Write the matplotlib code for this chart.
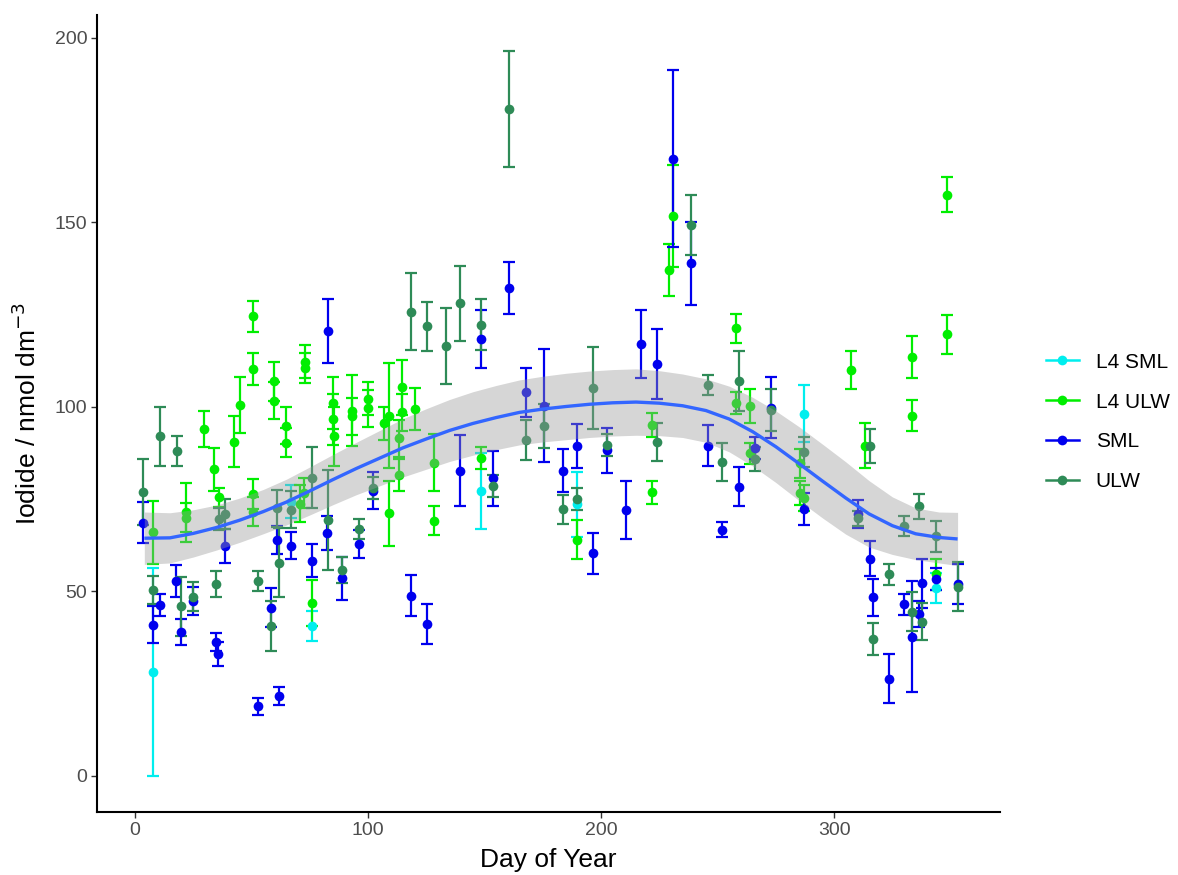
import matplotlib
matplotlib.use("Agg")
import matplotlib.pyplot as plt
from matplotlib.lines import Line2D
import numpy as np

plt.rcParams['font.family'] = ['Liberation Sans', 'DejaVu Sans']

# ---- observations: day of year, mean iodide, error (nmol dm-3) ----
l4sml_day = [7.6, 67, 76, 148.5, 189.6, 287, 343.8]
l4sml_val = [28.1, 74.3, 40.7, 77.3, 73.6, 98.2, 51.0]
l4sml_err = [28.1, 4.5, 4.1, 10.3, 8.8, 7.7, 4.1]

l4ulw_day = [7.6, 21.9, 21.9, 29.8, 34.0, 36.0, 42.6, 45.0, 50.8, 50.8, 50.8, 50.8,
             59.8, 59.8, 65.0, 65.0, 70.8, 72.5, 73.0, 73.0, 76.0, 85.0, 85.0, 85.5,
             93.3, 93.3, 100.0, 100.0, 107.0, 109.0, 109.0, 113.5, 113.5, 114.5, 114.5,
             120.0, 128.3, 128.3, 148.5, 189.6, 222.0, 221.8, 229.0, 231.0, 258.0, 258.0,
             264.0, 264.0, 285.4, 285.4, 287.0, 307.4, 313.3, 333.6, 333.6, 343.8,
             348.6, 348.6]
l4ulw_val = [66.0, 71.4, 70.0, 94.0, 83.1, 75.5, 90.6, 100.5, 124.5, 110.2, 76.4, 71.6,
             106.9, 101.7, 94.9, 90.3, 73.7, 76.6, 112.2, 110.6, 46.8, 101.0, 96.6, 92.0,
             98.9, 97.4, 102.2, 99.6, 95.5, 97.6, 71.1, 91.5, 81.6, 105.3, 98.5,
             99.4, 84.9, 69.2, 86.1, 64.0, 76.9, 95.1, 137.1, 151.8, 121.3, 101.0,
             100.3, 87.4, 84.7, 76.6, 75.2, 110.0, 89.5, 113.5, 97.6, 54.6,
             157.5, 119.7]
l4ulw_err = [8.5, 8.0, 4.0, 5.0, 5.8, 2.6, 6.8, 7.5, 4.1, 4.3, 4.1, 4.0,
             5.2, 5.0, 5.0, 4.0, 5.0, 4.0, 4.5, 4.0, 6.3, 7.0, 7.0, 8.0,
             9.6, 5.0, 4.5, 5.0, 4.5, 14.3, 8.7, 5.0, 4.4, 7.5, 5.0,
             5.6, 7.8, 3.9, 3.0, 5.3, 3.1, 3.2, 7.1, 13.8, 4.0, 3.0,
             4.6, 2.9, 4.0, 3.3, 3.5, 5.1, 6.0, 5.6, 4.2, 4.3,
             4.8, 5.3]

sml_day = [3.6, 7.6, 10.7, 17.6, 19.6, 24.8, 34.8, 35.8, 38.8, 52.9, 58.2, 60.8,
           61.9, 67.0, 76.0, 82.5, 83.0, 89.0, 96.0, 102.0, 118.3, 125.5, 139.5,
           148.5, 153.5, 160.6, 167.7, 175.7, 183.8, 189.8, 196.7, 202.7, 210.7,
           217.0, 224.0, 231.0, 238.5, 246.0, 252.0, 259.0, 266.0, 273.0, 287.0,
           310.4, 315.5, 316.5, 323.6, 329.8, 333.6, 337.6, 336.5, 343.8, 353.0]
sml_val = [68.6, 41.0, 46.2, 52.8, 38.9, 47.4, 36.2, 33.1, 62.3, 18.8, 45.6, 64.0,
           21.7, 62.4, 58.3, 65.8, 120.6, 53.5, 62.9, 77.3, 48.8, 41.2, 82.7,
           118.3, 80.6, 132.2, 103.9, 100.3, 82.7, 89.4, 60.3, 88.3, 72.1,
           117.1, 111.6, 167.2, 138.9, 89.5, 66.7, 78.4, 88.8, 99.8, 72.4,
           70.9, 58.9, 48.4, 26.3, 46.5, 37.7, 52.2, 43.9, 53.4, 52.0]
sml_err = [5.5, 5.0, 3.0, 4.3, 3.5, 3.8, 2.5, 3.3, 4.5, 2.4, 5.2, 3.8,
           2.4, 3.7, 4.5, 4.6, 8.7, 5.8, 3.8, 5.0, 5.6, 5.5, 9.7,
           7.9, 7.5, 7.0, 6.6, 15.3, 5.8, 6.0, 5.6, 6.1, 7.9,
           9.2, 9.5, 24.0, 11.2, 5.5, 2.1, 5.2, 3.0, 8.2, 4.3,
           3.8, 4.7, 5.0, 6.6, 2.8, 15.0, 6.7, 3.6, 3.0, 5.3]

ulw_day = [3.6, 7.6, 10.7, 17.9, 19.6, 24.8, 34.8, 36.0, 38.8, 52.9, 58.2, 61.9,
           61.0, 67.0, 75.8, 83.0, 89.0, 96.0, 102.0, 118.3, 125.5, 133.5, 139.5,
           148.5, 153.5, 160.6, 167.7, 175.7, 183.8, 189.6, 196.7, 202.7, 224.0,
           238.5, 246.0, 252.0, 259.0, 266.0, 273.0, 287.0, 310.4, 315.5, 316.5,
           323.6, 329.8, 333.6, 336.5, 337.6, 343.8, 353.0]
ulw_val = [77.0, 50.4, 92.0, 88.0, 45.9, 48.6, 51.9, 69.5, 70.9, 52.8, 40.6, 57.8,
           72.5, 72.1, 80.8, 69.4, 55.8, 66.8, 78.0, 125.8, 121.8, 116.5, 128.1,
           122.2, 78.6, 180.8, 91.1, 94.9, 72.2, 75.0, 105.1, 89.7, 90.4,
           149.3, 106.0, 85.0, 107.0, 85.8, 99.2, 87.7, 69.8, 89.5, 37.1,
           54.6, 67.8, 44.5, 73.0, 41.8, 64.9, 51.3]
ulw_err = [9.0, 3.8, 7.9, 4.1, 8.0, 4.0, 3.5, 3.0, 4.0, 2.7, 6.9, 9.3,
           5.0, 5.0, 8.2, 13.5, 3.5, 2.7, 3.0, 10.4, 6.7, 10.2, 10.2,
           6.9, 3.0, 15.7, 5.4, 6.0, 4.0, 3.0, 11.0, 3.0, 5.2,
           8.2, 2.7, 5.2, 8.1, 3.3, 5.7, 4.1, 2.0, 4.6, 4.3,
           2.9, 2.7, 5.2, 3.4, 5.0, 4.2, 6.7]

# ---- seasonal smooth with confidence band ----
fit_day = [4, 15, 25, 35, 45, 55, 65, 75, 85, 95, 105, 115, 125, 135, 145, 155, 165,
           175, 185, 195, 205, 215, 225, 235, 245, 255, 265, 275, 285, 295, 305, 315,
           325, 335, 345, 353]
fit_val = [64.4, 64.5, 65.7, 67.3, 69.3, 71.6, 74.2, 77.2, 80.3, 83.3, 86.1, 88.9,
           91.3, 93.6, 95.5, 97.1, 98.5, 99.4, 100.1, 100.7, 101.1, 101.3, 101.0,
           100.3, 99.0, 96.7, 93.3, 89.2, 84.6, 79.9, 75.3, 71.0, 67.8, 65.6, 64.6,
           64.2]
fit_ci = [7.1, 6.8, 6.4, 6.1, 6.0, 6.0, 6.2, 6.5, 6.8, 7.1, 7.5, 7.9, 8.2, 8.4, 8.6,
          8.7, 8.8, 8.9, 9.0, 9.0, 9.0, 9.0, 8.8, 8.6, 8.6, 8.9, 9.3, 9.7, 10.0, 10.0,
          9.8, 9.0, 7.8, 7.0, 6.9, 7.2]

series = [
    ("L4 SML", l4sml_day, l4sml_val, l4sml_err, "#00eeee"),
    ("L4 ULW", l4ulw_day, l4ulw_val, l4ulw_err, "#00ee00"),
    ("SML", sml_day, sml_val, sml_err, "#0000ee"),
    ("ULW", ulw_day, ulw_val, ulw_err, "#2e8b57"),
]

fig = plt.figure(figsize=(11.78, 8.75), dpi=100)
ax = fig.add_axes([97 / 1178, 63 / 875, 903 / 1178, 797 / 875])

for name, d, v, e, col in series:
    ax.errorbar(d, v, yerr=e, fmt="none", ecolor=col, elinewidth=1.6,
                capsize=4.3, capthick=1.6, zorder=2)
    ax.plot(d, v, "o", color=col, markersize=7, markeredgewidth=0, zorder=3)

fd = np.array(fit_day)
fv = np.array(fit_val)
fc = np.array(fit_ci)
ax.fill_between(fd, fv - fc, fv + fc, color="#999999", alpha=0.4, linewidth=0, zorder=4)
ax.plot(fd, fv, color="#3366ff", linewidth=2.4, zorder=5, solid_capstyle="butt")

ax.set_xlim(-16.3, 371.2)
ax.set_ylim(-9.8, 206.2)
ax.set_xticks([0, 100, 200, 300])
ax.set_yticks([0, 50, 100, 150, 200])
ax.tick_params(axis="both", colors="#333333", labelcolor="#4d4d4d", labelsize=14,
               length=4, width=1.0, pad=3)
for s in ("top", "right"):
    ax.spines[s].set_visible(False)
for s in ("left", "bottom"):
    ax.spines[s].set_linewidth(1.5)
    ax.spines[s].set_color("black")

ax.set_xlabel("Day of Year", fontsize=19, labelpad=7)
ax.set_ylabel("Iodide / nmol dm$^{-3}$", fontsize=19, labelpad=10)

handles = [Line2D([0], [0], color=col, marker="o", markersize=7, linewidth=1.8,
                  markeredgewidth=0) for _, _, _, _, col in series]
labels = [s[0] for s in series]
fig.legend(handles, labels, loc="center left", bbox_to_anchor=(1027 / 1178, 453 / 875),
           frameon=False, fontsize=15, handlelength=1.6, handletextpad=0.8,
           labelspacing=1.0)

fig.savefig("out.png", dpi=100)
